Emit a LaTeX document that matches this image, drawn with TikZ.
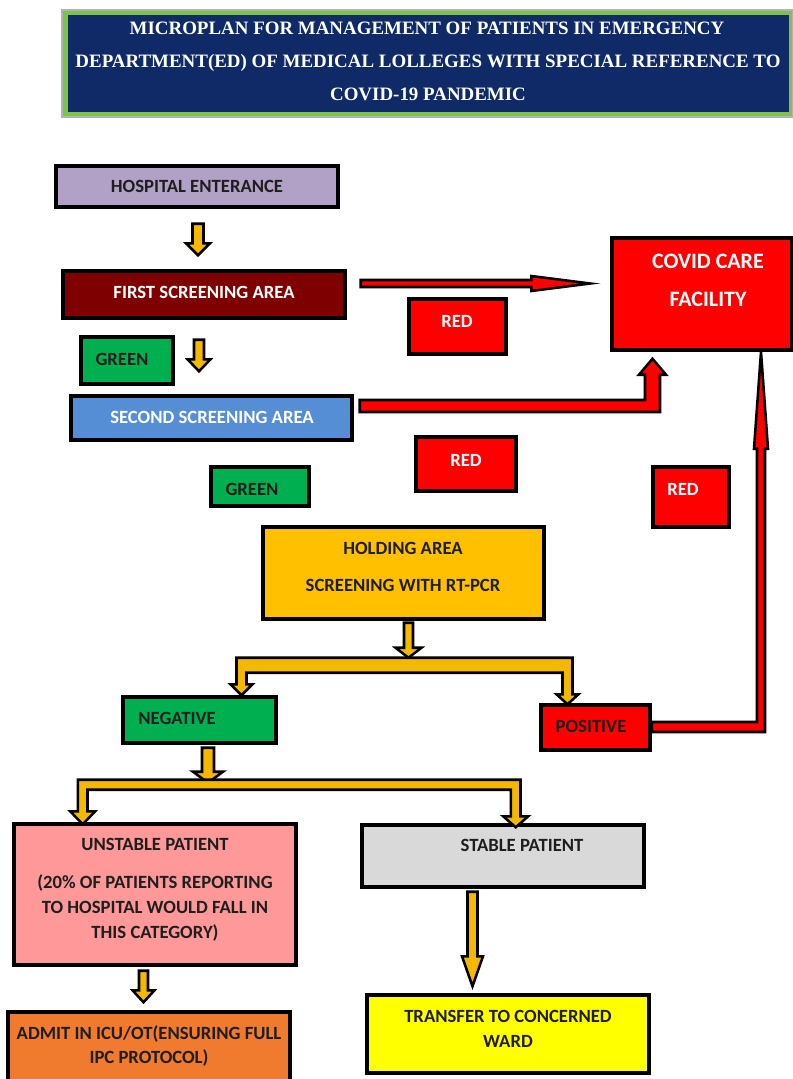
\documentclass[tikz,border=0pt]{standalone}
\usepackage{fontspec}
\setmainfont{Carlito}
\newfontfamily\titlefont{Liberation Serif}
\usetikzlibrary{calc}
\definecolor{navy}{HTML}{102A68}
\definecolor{tgreen}{HTML}{7DC24B}
\definecolor{lav}{HTML}{B2A1C7}
\definecolor{maroon}{HTML}{7F0000}
\definecolor{grn}{HTML}{00B050}
\definecolor{blu}{HTML}{558ED5}
\definecolor{rd}{HTML}{FF0000}
\definecolor{gold}{HTML}{FFC000}
\definecolor{pnk}{HTML}{FF9999}
\definecolor{lgray}{HTML}{D9D9D9}
\definecolor{yel}{HTML}{FFFF00}
\definecolor{orng}{HTML}{F07A2E}
\definecolor{ayel}{HTML}{F5B800}
\definecolor{txt}{HTML}{1E1E1E}
\newcommand\pu{0.75pt}
\newcommand\mkbox[6]{\node[box,fill=#6,minimum width={(#4-#2)*0.75pt},minimum height={(#5-#3)*0.75pt}] (#1) at ({(#2+#4)/2},{(#3+#5)/2}) {};}
% vertical block arrow: start point, tip point, shaft half width, head half width, head length (px)
\newcommand\blockdown[5]{\draw[yarr] let \p1=#1, \p2=#2 in
  (\x1-#3*\pu,\y1) -- (\x1-#3*\pu,\y2+#5*\pu) -- (\x1-#4*\pu,\y2+#5*\pu) -- (\x1,\y2)
  -- (\x1+#4*\pu,\y2+#5*\pu) -- (\x1+#3*\pu,\y2+#5*\pu) -- (\x1+#3*\pu,\y1) -- cycle;}
\begin{document}
\begin{tikzpicture}[x=0.75pt,y=-0.75pt,
  box/.style={draw=black, line width=2.6pt, inner sep=0pt, line join=miter},
  lbl/.style={font=\fontsize{14}{16}\selectfont\bfseries, text=txt, inner sep=0pt, text height=9pt, text depth=0pt},
  lblw/.style={lbl, text=white},
  big/.style={font=\fontsize{16.5}{18}\selectfont\bfseries, text=white, inner sep=0pt, text height=10.6pt, text depth=0pt},
  ttl/.style={font=\titlefont\fontsize{14.2}{16}\selectfont\bfseries, text=white, inner sep=0pt, text height=9.4pt, text depth=0pt},
  yarr/.style={fill=ayel, draw=black, line width=1.9pt, line join=miter},
  rarr/.style={fill=rd, draw=black, line width=1.9pt, line join=miter}]
\useasboundingbox (0,0) rectangle (793,1079);
% title
\node[fill=tgreen, draw=gray!60, line width=0.8pt, minimum width={731*0.75pt}, minimum height={107*0.75pt}, inner sep=0pt] (tframe) at (427.5,63.5) {};
\node[fill=navy, minimum width={721*0.75pt}, minimum height={97*0.75pt}, inner sep=0pt] (title) at (428,63.5) {};
\node[ttl] (t1) at (427,28) {MICROPLAN FOR MANAGEMENT OF PATIENTS IN EMERGENCY};
\node[ttl] (t2) at (428,61) {DEPARTMENT(ED) OF MEDICAL LOLLEGES WITH SPECIAL REFERENCE TO};
\node[ttl] (t3) at (428,94) {COVID-19 PANDEMIC};
% boxes
\mkbox{hosp}{56}{166}{338}{207}{lav}
\mkbox{first}{63}{271}{345}{318}{maroon}
\mkbox{covid}{612}{238}{792}{350}{rd}
\mkbox{red1}{409}{299}{506}{354}{rd}
\mkbox{green1}{81}{337}{173}{384}{grn}
\mkbox{second}{71}{396}{352}{440}{blu}
\mkbox{red2}{416}{437}{516}{491}{rd}
\mkbox{green2}{211}{467}{309}{506}{grn}
\mkbox{red3}{653}{467}{729}{527}{rd}
\mkbox{hold}{263}{527}{544}{619}{gold}
\mkbox{neg}{123}{697}{276}{743}{grn}
\mkbox{pos}{541}{705}{650}{750}{rd}
\mkbox{unst}{14}{824}{296}{965}{pnk}
\mkbox{stab}{362}{825}{644}{887}{lgray}
\mkbox{trans}{367}{995}{649}{1073}{yel}
\mkbox{admit}{8}{1012}{290}{1090}{orng}
% texts
\node[lbl] (hosp-t) at (197,186) {HOSPITAL ENTERANCE};
\node[lblw] (first-t) at (204,292) {FIRST SCREENING AREA};
\node[big] (covid-t1) at (708,261) {COVID CARE};
\node[big] (covid-t2) at (708,299) {FACILITY};
\node[lblw] (red1-t) at (457,321) {RED};
\node[lbl] (green1-t) at (122,359) {GREEN};
\node[lblw] (second-t) at (212,417) {SECOND SCREENING AREA};
\node[lblw] (red2-t) at (466,460) {RED};
\node[lbl] (green2-t) at (252,489) {GREEN};
\node[lblw] (red3-t) at (683,489) {RED};
\node[lbl] (hold-t1) at (403,548) {HOLDING AREA};
\node[lbl] (hold-t2) at (403,585) {SCREENING WITH RT-PCR};
\node[lbl] (neg-t) at (177,718) {NEGATIVE};
\node[lbl] (pos-t) at (591,726) {POSITIVE};
\node[lbl] (unst-t1) at (155,844) {UNSTABLE PATIENT};
\node[lbl] (unst-t2) at (155,882) {(20\% OF PATIENTS REPORTING};
\node[lbl] (unst-t3) at (155,907) {TO HOSPITAL WOULD FALL IN};
\node[lbl] (unst-t4) at (155,932) {THIS CATEGORY)};
\node[lbl] (stab-t) at (522,845) {STABLE PATIENT};
\node[lbl] (trans-t1) at (508,1016) {TRANSFER TO CONCERNED};
\node[lbl] (trans-t2) at (508,1041) {WARD};
\node[lbl] (admit-t1) at (149,1033) {ADMIT IN ICU/OT(ENSURING FULL};
\node[lbl] (admit-t2) at (149,1057) {IPC PROTOCOL)};
% yellow block arrows
\blockdown{($(hosp.south)+(1,15)$)}{($(first.north)+(1,-14)$)}{5.5}{12}{12}
\blockdown{($(first.south)+(-5,20)$)}{($(second.north)+(-12,-23)$)}{5}{11.5}{12}
\blockdown{($(hold.south)+(5,2)$)}{($(hold.south)+(5,37)$)}{4.5}{13}{10}
\blockdown{($(neg.south)+(8.5,3)$)}{($(neg.south)+(8.5,38)$)}{6}{15}{11}
\blockdown{($(unst.south)+(-11.5,4)$)}{($(admit.north)+(-5.5,-8)$)}{4.5}{11}{12}
\blockdown{($(stab.south)+(-30.5,3)$)}{($(trans.north)+(-35.3,-7)$)}{5}{10.5}{30}
% fork below holding area
\draw[yarr] let \p1=($(neg.north)+(42,0)$), \p2=($(pos.north)+(-28,1)$), \p3=($(hold.south)+(0,37)$) in
  (\x1-5*\pu,\y1+11*\pu) -- (\x1-5*\pu,\y3) -- (\x2+5*\pu,\y3) -- (\x2+5*\pu,\y2+10*\pu)
  -- (\x2+11*\pu,\y2+10*\pu) -- (\x2,\y2) -- (\x2-11*\pu,\y2+10*\pu) -- (\x2-5*\pu,\y2+10*\pu)
  -- (\x2-5*\pu,\y3-15*\pu) -- (\x1+5*\pu,\y3-15*\pu) -- (\x1+5*\pu,\y1+11*\pu)
  -- (\x1+11*\pu,\y1+11*\pu) -- (\x1,\y1) -- (\x1-11*\pu,\y1+11*\pu) -- cycle;
% fork below negative
\draw[yarr] let \p1=($(unst.north)+(-72.3,2)$), \p2=($(stab.north)+(12.7,4)$), \p3=($(neg.south)+(0,35)$) in
  (\x1-4.8*\pu,\y1+13*\pu) -- (\x1-4.8*\pu,\y3) -- (\x2+4.8*\pu,\y3) -- (\x2+4.8*\pu,\y2+11*\pu)
  -- (\x2+12.5*\pu,\y2+11*\pu) -- (\x2,\y2) -- (\x2-12.5*\pu,\y2+11*\pu) -- (\x2-4.8*\pu,\y2+11*\pu)
  -- (\x2-4.8*\pu,\y3-10*\pu) -- (\x1+4.8*\pu,\y3-10*\pu) -- (\x1+4.8*\pu,\y1+13*\pu)
  -- (\x1+12.5*\pu,\y1+13*\pu) -- (\x1,\y1) -- (\x1-12.5*\pu,\y1+13*\pu) -- cycle;
% red arrows
\draw[rarr] let \p1=($(first.east)+(14,-11)$), \p2=($(covid.west)+(-20,-10.5)$) in
  (\x1,\y1+3.5*\pu) -- (\x2-59*\pu,\y1+3.5*\pu) -- (\x2-59*\pu,\y1+7.5*\pu) -- (\x2,\y1)
  -- (\x2-59*\pu,\y1-7.5*\pu) -- (\x2-59*\pu,\y1-3.5*\pu) -- (\x1,\y1-3.5*\pu) -- cycle;
\draw[rarr] let \p1=($(second.east)+(6,-12)$), \p2=($(covid.south)+(-49.5,7)$) in
  (\x1,\y1+6*\pu) -- (\x2-7.5*\pu,\y1+6*\pu) -- (\x2-7.5*\pu,\y2-16*\pu) -- (\x2-13.5*\pu,\y2-16*\pu)
  -- (\x2,\y2) -- (\x2+13.5*\pu,\y2-16*\pu) -- (\x2+7.5*\pu,\y2-16*\pu) -- (\x2+7.5*\pu,\y1-6*\pu)
  -- (\x1,\y1-6*\pu) -- cycle;
\draw[rarr] let \p1=($(pos.east)+(0,-0.5)$), \p2=($(covid.south)+(59,0)$) in
  (\x1,\y1+5*\pu) -- (\x2-4*\pu,\y1+5*\pu) -- (\x2-4*\pu,\y2-97*\pu) -- (\x2-7*\pu,\y2-97*\pu)
  -- (\x2,\y2) -- (\x2+7*\pu,\y2-97*\pu) -- (\x2+4*\pu,\y2-97*\pu) -- (\x2+4*\pu,\y1-5*\pu)
  -- (\x1,\y1-5*\pu) -- cycle;
\end{tikzpicture}
\end{document}
